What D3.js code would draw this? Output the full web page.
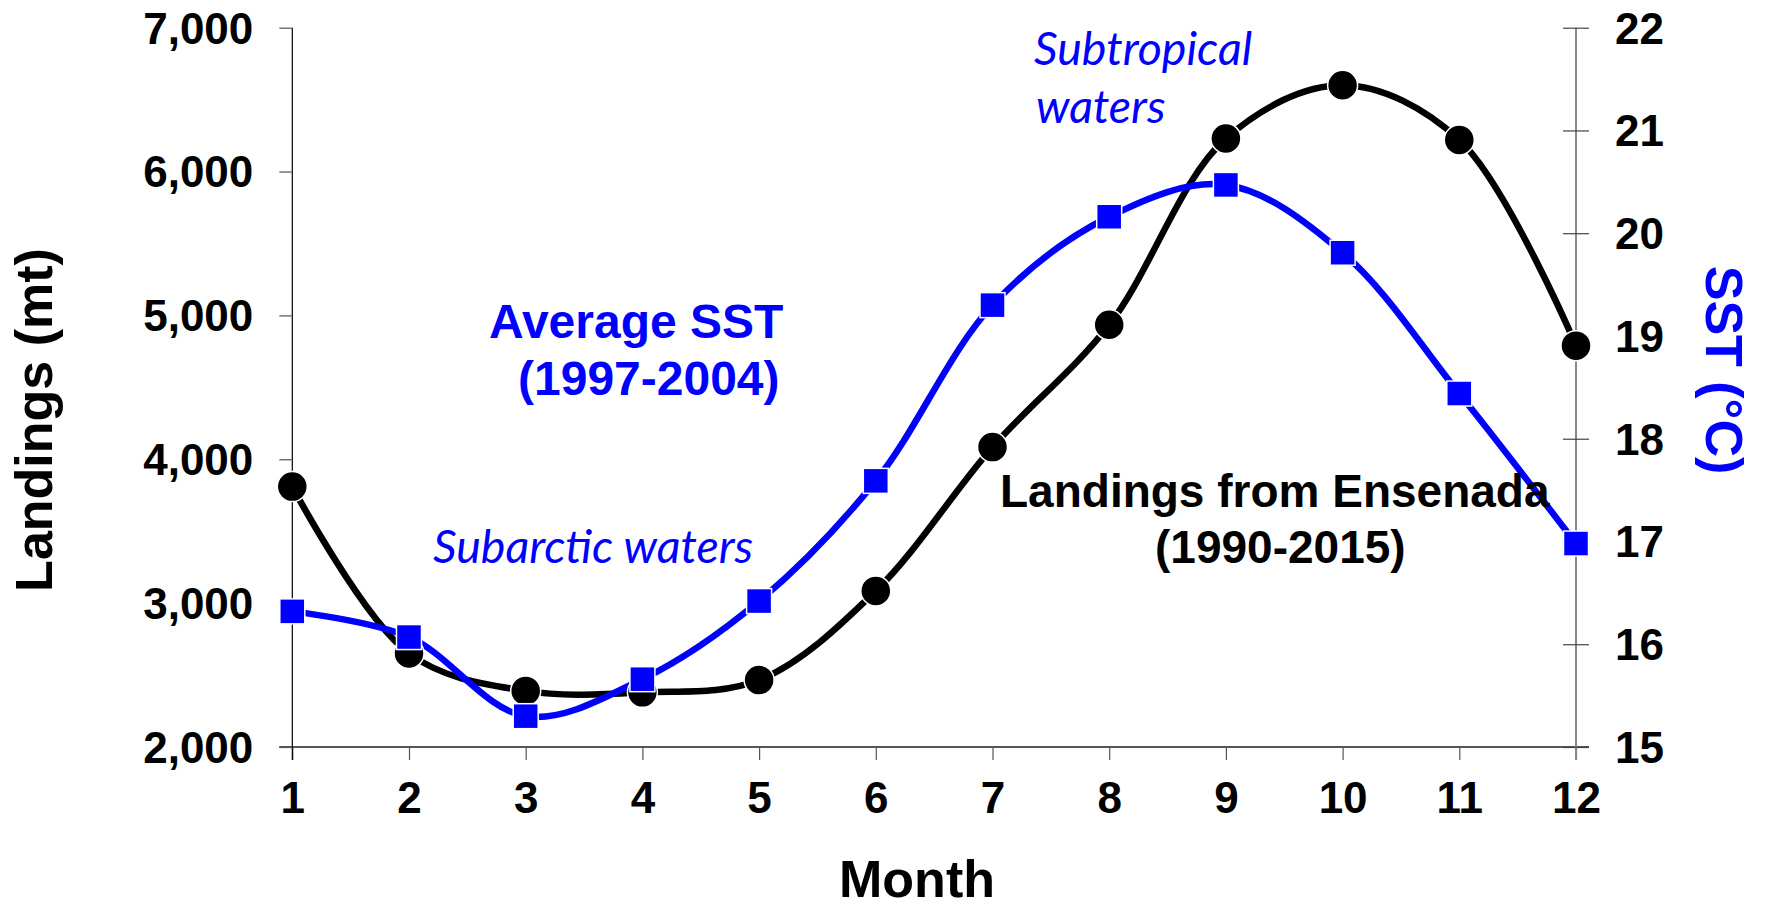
<!DOCTYPE html>
<meta charset="utf-8">
<script src="https://d3js.org/d3.v7.min.js"></script>
<style>
  body { margin: 0; background: #fff; }
  text { font-family: "Liberation Sans", Arial, sans-serif; }
</style>
<div id="chart"></div>
<script>
// data
const months = [1, 2, 3, 4, 5, 6, 7, 8, 9, 10, 11, 12];
const landings = [3810, 2650, 2390, 2380, 2465, 3085, 4085, 4935, 6230, 6600, 6220, 4790];
const sst = [16.32, 16.07, 15.30, 15.66, 16.42, 17.59, 19.30, 20.16, 20.47, 19.81, 18.44, 16.98];
const landingTicks = [2000, 3000, 4000, 5000, 6000, 7000];
const sstTicks = [15, 16, 17, 18, 19, 20, 21, 22];

const width = 1765, height = 909;
const plotLeft = 292.3, plotRight = 1576, plotTop = 27.7, plotBottom = 747;

const svg = d3.select("#chart")
    .append("svg")
    .attr("width", width)
    .attr("height", height);

const x = d3.scaleLinear().domain([1, 12]).range([plotLeft, plotRight]);
const yL = d3.scaleLinear().domain([2000, 7000]).range([plotBottom, plotTop]);
const yR = d3.scaleLinear().domain([15, 22]).range([plotBottom, plotTop]);

// x axis
const xAxis = svg.append("g")
    .attr("transform", `translate(0, ${plotBottom})`)
    .call(d3.axisBottom(x).tickValues(months).tickFormat(d3.format("d")).tickSize(13).tickSizeOuter(0));
xAxis.select(".domain").attr("stroke", "#555").attr("stroke-width", 2)
    .attr("d", `M${plotLeft - 13},0H${plotRight + 13}`);
xAxis.selectAll(".tick line").attr("stroke", "#555").attr("stroke-width", 1.2);
xAxis.selectAll(".tick text")
    .attr("y", 66).attr("dy", 0)
    .attr("font-size", "44px").attr("font-weight", "bold").attr("fill", "#000");

// left axis
const lAxis = svg.append("g")
    .attr("transform", `translate(${plotLeft}, 0)`)
    .call(d3.axisLeft(yL).tickValues(landingTicks).tickFormat(d3.format(",")).tickSize(13).tickSizeOuter(0));
lAxis.select(".domain").attr("stroke", "#000").attr("stroke-width", 1.2)
    .attr("d", `M0,${plotTop}V${plotBottom + 13}`);
lAxis.selectAll(".tick line").attr("stroke", "#555").attr("stroke-width", 1.2);
lAxis.selectAll(".tick text")
    .attr("x", -39).attr("dy", "0.35em")
    .attr("font-size", "44px").attr("font-weight", "bold").attr("fill", "#000");

// right axis
const rAxis = svg.append("g")
    .attr("transform", `translate(${plotRight}, 0)`)
    .call(d3.axisRight(yR).tickValues(sstTicks).tickFormat(d3.format("d")).tickSize(13).tickSizeOuter(0));
rAxis.select(".domain").attr("stroke", "#888").attr("stroke-width", 2)
    .attr("d", `M0,${plotTop}V${plotBottom + 13}`);
rAxis.selectAll(".tick line").attr("stroke", "#444").attr("stroke-width", 1.2)
    .attr("x1", -13).attr("x2", 13);
rAxis.selectAll(".tick text")
    .attr("x", 39).attr("dy", "0.35em")
    .attr("font-size", "44px").attr("font-weight", "bold").attr("fill", "#000");

// axis titles
svg.append("text")
    .text("Landings (mt)")
    .attr("transform", "translate(52, 420) rotate(-90)")
    .attr("text-anchor", "middle")
    .attr("font-size", "52px").attr("font-weight", "bold");

svg.append("text")
    .text("SST (°C)")
    .attr("transform", "translate(1706, 370) rotate(90)")
    .attr("text-anchor", "middle")
    .attr("font-size", "52px").attr("font-weight", "bold")
    .attr("fill", "#0000ff");

svg.append("text")
    .text("Month")
    .attr("x", 917).attr("y", 897)
    .attr("text-anchor", "middle")
    .attr("font-size", "52px").attr("font-weight", "bold");

// lines
const curve = d3.curveCatmullRom.alpha(0.5);

const landLine = d3.line()
    .x((d, i) => x(months[i]))
    .y(d => yL(d))
    .curve(curve);

const sstLine = d3.line()
    .x((d, i) => x(months[i]))
    .y(d => yR(d))
    .curve(curve);

svg.append("path")
    .attr("d", landLine(landings))
    .attr("fill", "none")
    .attr("stroke", "#000")
    .attr("stroke-width", 6.5);

svg.append("path")
    .attr("d", sstLine(sst))
    .attr("fill", "none")
    .attr("stroke", "#0000ff")
    .attr("stroke-width", 6.5);

svg.append("g")
    .selectAll("circle")
    .data(landings)
    .join("circle")
    .attr("cx", (d, i) => x(months[i]))
    .attr("cy", d => yL(d))
    .attr("r", 15)
    .attr("fill", "#000")
    .attr("stroke", "#fff")
    .attr("stroke-width", 1.5);

const sq = 25;
svg.append("g")
    .selectAll("rect")
    .data(sst)
    .join("rect")
    .attr("x", (d, i) => x(months[i]) - sq / 2)
    .attr("y", d => yR(d) - sq / 2)
    .attr("width", sq)
    .attr("height", sq)
    .attr("fill", "#0000ff")
    .attr("stroke", "#fff")
    .attr("stroke-width", 1.5);

// annotations
const blueBold = [
    {t: "Average SST", x: 489, y: 338},
    {t: "(1997-2004)", x: 518, y: 395}
];
svg.append("g")
    .selectAll("text")
    .data(blueBold)
    .join("text")
    .text(d => d.t)
    .attr("x", d => d.x).attr("y", d => d.y)
    .attr("font-size", "48px").attr("font-weight", "bold")
    .attr("fill", "#0000ff");

const blackBold = [
    {t: "Landings from Ensenada", x: 1000, y: 507},
    {t: "(1990-2015)", x: 1155, y: 563}
];
svg.append("g")
    .selectAll("text")
    .data(blackBold)
    .join("text")
    .text(d => d.t)
    .attr("x", d => d.x).attr("y", d => d.y)
    .attr("font-size", "46px").attr("font-weight", "bold")
    .attr("fill", "#000");

const waters = [
    {t: "Subtropical", x: 1034, y: 65},
    {t: "waters", x: 1036, y: 123},
    {t: "Subarctic waters", x: 433, y: 563}
];
svg.append("g")
    .selectAll("text")
    .data(waters)
    .join("text")
    .text(d => d.t)
    .attr("x", d => d.x).attr("y", d => d.y)
    .style("font-family", "Lato, 'Open Sans', sans-serif")
    .attr("font-size", "46.5px").attr("font-style", "italic")
    .attr("fill", "#0000ff");
</script>
